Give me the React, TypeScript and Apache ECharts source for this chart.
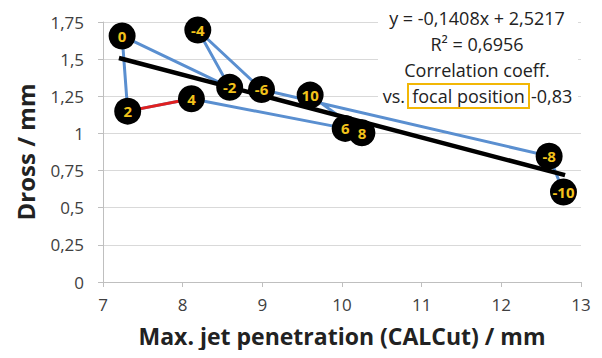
import React, { useEffect, useRef } from "react";
import * as echarts from "echarts";

const focalLabels = ["-10", "-8", "-6", "-4", "-2", "0", "2", "4", "6", "8", "10"];
const penetration = [12.78, 12.6, 8.99, 8.19, 8.59, 7.24, 7.31, 8.11, 10.04, 10.25, 9.6];
const dross = [0.606, 0.847, 1.296, 1.696, 1.31, 1.656, 1.15, 1.233, 1.034, 1.004, 1.258];
const redSegment = [6, 7]; // indices of points 2 -> 4
const trendX = [7.2, 12.8];
const trendY = [1.508, 0.719];
const annotationLines = ["y = -0,1408x + 2,5217", "R² = 0,6956", "Correlation coeff."];
const annotationLast = ["vs.", "focal position", "-0,83"];

export default function App() {
  const ref = useRef<HTMLDivElement>(null);
  useEffect(() => {
    if (!ref.current) return;
    const chart = echarts.init(ref.current, undefined, { renderer: "svg" });
    const pts = penetration.map((x, i) => [x, dross[i]]);
    const font = "'Open Sans', 'Noto Sans', sans-serif";
    chart.setOption({
      animation: false,
      backgroundColor: "#ffffff",
      grid: { left: 103, right: 21, top: 22, bottom: 76, containLabel: false },
      xAxis: {
        type: "value",
        min: 7,
        max: 13,
        interval: 1,
        name: "Max. jet penetration (CALCut) / mm",
        nameLocation: "middle",
        nameGap: 42,
        nameTextStyle: { fontFamily: font, fontWeight: "bold", fontSize: 23, color: "#222" },
        axisLine: { lineStyle: { color: "#bfbfbf" } },
        axisTick: { show: true, length: 5, lineStyle: { color: "#bfbfbf" } },
        axisLabel: { fontFamily: font, fontSize: 17, color: "#404040", margin: 14 },
        splitLine: { show: false },
      },
      yAxis: {
        type: "value",
        min: 0,
        max: 1.75,
        interval: 0.25,
        name: "Dross / mm",
        nameLocation: "middle",
        nameGap: 66,
        nameTextStyle: { fontFamily: font, fontWeight: "bold", fontSize: 24, color: "#222" },
        axisLine: { show: true, lineStyle: { color: "#bfbfbf" } },
        axisTick: { show: true, length: 5, lineStyle: { color: "#bfbfbf" } },
        axisLabel: {
          fontFamily: font,
          fontSize: 17,
          color: "#404040",
          margin: 19,
          formatter: (v: number) => String(v).replace(".", ","),
        },
        splitLine: { show: true, lineStyle: { color: "#d9d9d9", width: 1 } },
      },
      graphic: [
        {
          type: "rect",
          shape: { x: 378, y: 4, width: 200, height: 106 },
          style: { fill: "#ffffff" },
          z: 50,
        },
        ...annotationLines.map((t, i) => ({
          type: "text",
          x: 477,
          y: 18 + i * 26,
          z: 51,
          style: {
            text: t,
            fontFamily: font,
            fontSize: 18,
            fill: "#222",
            align: "center",
            verticalAlign: "middle",
          },
        })),
        {
          type: "text",
          x: 405,
          y: 96,
          z: 51,
          style: { text: annotationLast[0], fontFamily: font, fontSize: 18, fill: "#222", align: "right", verticalAlign: "middle" },
        },
        {
          type: "rect",
          shape: { x: 408, y: 84, width: 121, height: 24 },
          z: 51,
          style: { fill: "none", stroke: "#f2b705", lineWidth: 2 },
        },
        {
          type: "text",
          x: 468.5,
          y: 96,
          z: 52,
          style: { text: annotationLast[1], fontFamily: font, fontSize: 18, fill: "#222", align: "center", verticalAlign: "middle" },
        },
        {
          type: "text",
          x: 531,
          y: 96,
          z: 51,
          style: { text: annotationLast[2], fontFamily: font, fontSize: 18, fill: "#222", align: "left", verticalAlign: "middle" },
        },
      ],
      series: [
        {
          type: "line",
          data: pts,
          showSymbol: false,
          lineStyle: { color: "#5a8fd0", width: 3 },
          z: 2,
        },
        {
          type: "line",
          data: redSegment.map((i) => pts[i]),
          showSymbol: false,
          lineStyle: { color: "#e02020", width: 3 },
          z: 3,
        },
        {
          type: "line",
          data: trendX.map((x, i) => [x, trendY[i]]),
          showSymbol: false,
          lineStyle: { color: "#000000", width: 4.5 },
          z: 4,
        },
        {
          type: "scatter",
          data: pts.map((p, i) => [p[0], p[1], focalLabels[i]]),
          symbol: "circle",
          symbolSize: 27,
          itemStyle: { color: "#000000", opacity: 1 },
          label: {
            show: true,
            position: "inside",
            formatter: (p: any) => p.data[2],
            fontFamily: font,
            fontWeight: "bold",
            fontSize: 15,
            color: "#f2c21b",
          },
          z: 10,
        },
      ],
    });
    return () => chart.dispose();
  }, []);
  return <div ref={ref} style={{ width: 602, height: 358, margin: -8 }} />;
}
